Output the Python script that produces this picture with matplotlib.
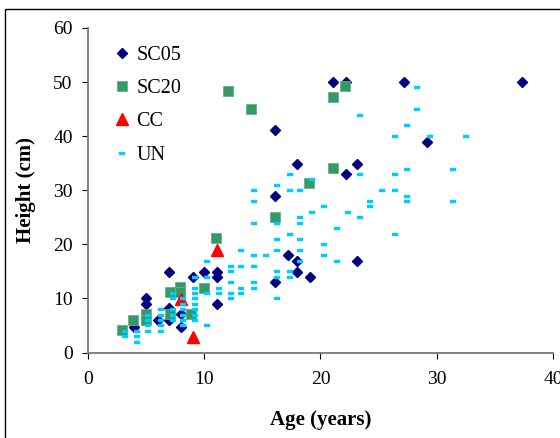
import matplotlib
matplotlib.use('Agg')
import matplotlib.pyplot as plt
from matplotlib.patches import Rectangle

plt.rcParams['font.family'] = ['Liberation Serif', 'DejaVu Serif']

# SC05
sc05_age = [4.0, 5.0, 5.0, 6.0, 7.0, 7.0, 7.0, 8.0, 8.0, 9.0, 10.0, 11.1, 11.1, 11.1,
            16.1, 16.1, 16.1, 17.2, 18.0, 18.0, 18.0, 19.1, 21.1, 22.2, 22.2, 23.1,
            23.1, 27.2, 29.2, 37.3]
sc05_height = [4.8, 10.0, 8.9, 6.0, 14.9, 8.2, 6.0, 7.1, 4.8, 14.0, 14.9, 14.9, 14.0, 8.9,
               41.1, 28.9, 13.0, 18.1, 34.9, 17.0, 14.9, 14.0, 50.0, 50.0, 33.0, 34.9,
               17.0, 50.0, 39.0, 50.0]

# SC20
sc20_age = [2.9, 3.9, 5.0, 5.0, 7.07, 7.07, 7.9, 7.9, 8.9, 10.0, 11.0, 12.07, 14.0,
            16.1, 19.0, 21.1, 21.1, 22.1]
sc20_height = [4.2, 6.1, 7.1, 6.0, 11.2, 7.2, 12.1, 11.1, 7.1, 12.0, 21.2, 48.3, 45.1,
               25.0, 31.3, 47.3, 34.2, 49.3]

# CC
cc_age = [8.0, 9.0, 11.1]
cc_height = [9.8, 2.9, 18.9]

# UN
un_age = [3.2, 3.2,
          4.2, 4.2, 4.2,
          5.2, 5.2, 5.2, 5.2,
          6.3, 6.3, 6.3, 6.3, 6.3,
          7.3, 7.3, 7.3, 7.3, 7.3,
          8.2, 8.2, 8.2, 8.2, 8.2, 8.2,
          9.2, 9.2, 9.2, 9.2, 9.2, 9.2, 9.2, 9.2,
          10.2, 10.2, 10.2, 10.2,
          11.3, 11.3,
          12.3, 12.3, 12.3, 12.3, 12.3,
          13.2, 13.2, 13.2, 13.2,
          14.3, 14.3, 14.3, 14.3, 14.3, 14.3, 14.3,
          15.3,
          16.3, 16.3, 16.3, 16.3, 16.3, 16.3, 16.3,
          17.4, 17.4, 17.4, 17.4, 17.4,
          18.2, 18.2, 18.2, 18.2, 18.2, 18.2,
          19.3, 19.3,
          20.3, 20.3, 20.3,
          21.4, 21.4,
          22.4,
          23.4, 23.4, 23.4,
          24.3, 24.3,
          25.3,
          26.4, 26.4, 26.4, 26.4,
          27.4, 27.4, 27.4, 27.4,
          28.3, 28.3,
          29.4,
          31.4, 31.4,
          32.5]
un_height = [4, 3,
             4, 3, 2,
             7, 6, 5, 4,
             8, 7, 6, 5, 4,
             11, 10, 8, 7, 6,
             10, 9, 8, 7, 6, 5,
             14, 12, 11, 10, 9, 8, 7, 6,
             17, 14, 11, 5,
             12, 11,
             16, 15, 13, 11, 10,
             19, 16, 12, 11,
             30, 28, 24, 18, 16, 13, 12,
             18,
             31, 24, 21, 19, 15, 14, 10,
             33, 30, 22, 15, 14,
             30, 25, 24, 21, 19, 17,
             32, 26,
             27, 20, 18,
             23, 17,
             26,
             44, 33, 25,
             28, 27,
             30,
             40, 33, 30, 22,
             42, 34, 29, 28,
             49, 45,
             40,
             34, 28,
             40]

x_ticks = [0, 10, 20, 30, 40]
y_ticks = [0, 10, 20, 30, 40, 50, 60]

dash = [(-1, -0.45), (1, -0.45), (1, 0.45), (-1, 0.45)]

fig = plt.figure(figsize=(5.6, 4.38), dpi=100)
ax = fig.add_axes([0.1571, 0.1952, 0.8304, 0.7409])

ax.plot(sc05_age, sc05_height, linestyle='none', marker='D', ms=5.2,
        color='#000080', mec='#000080', label='SC05', zorder=3)
ax.plot(sc20_age, sc20_height, linestyle='none', marker='s', ms=6.6,
        color='#339966', mec='#66b08a', mew=0.6, label='SC20', zorder=4)
ax.plot(cc_age, cc_height, linestyle='none', marker='^', ms=8,
        color='#ff0000', mec='#ff0000', label='CC', zorder=5)
ax.plot(un_age, un_height, linestyle='none', marker=dash, ms=4.8,
        color='#00ccff', mec='#00ccff', mew=0.3, label='UN', zorder=6)

ax.set_xlim(0, 40)
ax.set_ylim(0, 60)
ax.set_xticks(x_ticks)
ax.set_yticks(y_ticks)

for s in ['top', 'right']:
    ax.spines[s].set_visible(False)
for s in ['left', 'bottom']:
    ax.spines[s].set_color('#808080')
    ax.spines[s].set_linewidth(1.4)

ax.tick_params(axis='both', direction='out', length=4, width=0.8, color='black',
               labelsize=14, labelcolor='black')
ax.tick_params(axis='x', pad=9)
ax.tick_params(axis='y', pad=7)

ax.set_xlabel('Age (years)', fontsize=15, fontweight='bold')
ax.xaxis.set_label_coords(0.5, -0.208)
ax.xaxis.label.set_verticalalignment('center')
ax.set_ylabel('Height (cm)', fontsize=15, fontweight='bold')
ax.yaxis.set_label_coords(-0.133, 0.5)
ax.yaxis.label.set_verticalalignment('center')

leg = ax.legend(loc='upper left', bbox_to_anchor=(114 / 560, 1 - 46 / 438),
                bbox_transform=fig.transFigure, frameon=False, fontsize=14.5,
                numpoints=1, handlelength=0.8, handletextpad=0.3,
                labelspacing=0.7, borderpad=0, borderaxespad=0)

# outer chart border
fig.patches.append(Rectangle((5 / 560, -0.05), 1.2, 1 - 9 / 438 + 0.05,
                             transform=fig.transFigure, fill=False,
                             edgecolor='black', linewidth=1.0))

fig.savefig('out.png', dpi=100)
